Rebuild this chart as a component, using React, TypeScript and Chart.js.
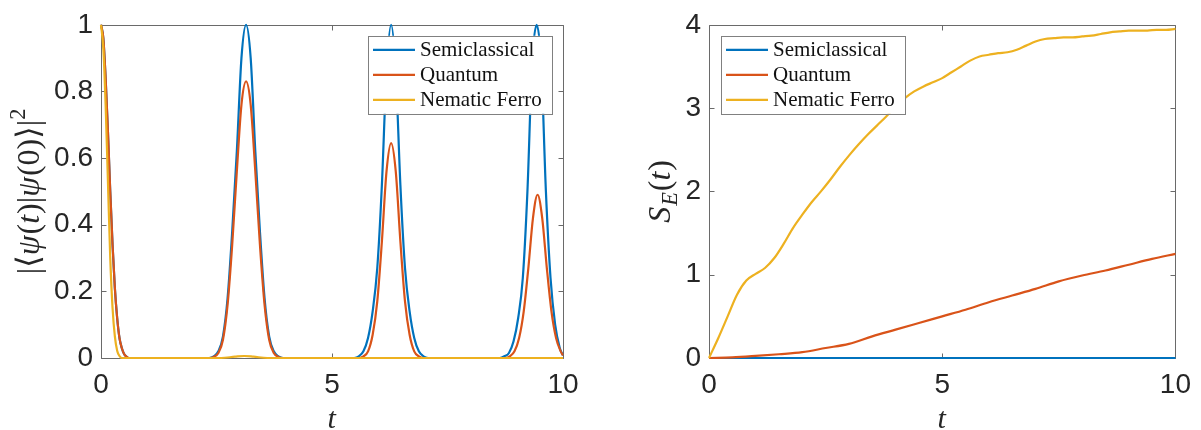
import React, { useEffect, useRef } from "react";
import { Chart, registerables } from "chart.js";

Chart.register(...registerables);

// ---------- shared ----------
const seriesNames = ["Semiclassical", "Quantum", "Nematic Ferro"];
const seriesColors = ["#0072BD", "#D95319", "#EDB120"];
const timeTicks = [0, 5, 10];
const overlapTicks = [0, 0.2, 0.4, 0.6, 0.8, 1];
const entropyTicks = [0, 1, 2, 3, 4];

// ---------- left panel: |<psi(t)|psi(0)>|^2 ----------
const semiOverlapT = [
  0, 0.05, 0.1, 0.15, 0.2, 0.25, 0.3, 0.35, 0.4, 0.45, 0.5, 0.55, 0.6,
  2.34, 2.44, 2.54, 2.64, 2.74, 2.84, 2.94, 3.04, 3.14, 3.24, 3.34, 3.44, 3.54, 3.64, 3.74, 3.84, 3.94,
  5.48, 5.58, 5.68, 5.78, 5.88, 5.98, 6.08, 6.18, 6.28, 6.38, 6.48, 6.58, 6.68, 6.78, 6.88, 6.98, 7.08,
  8.63, 8.73, 8.83, 8.93, 9.03, 9.13, 9.23, 9.33, 9.43, 9.53, 9.63, 9.73, 9.83, 9.93, 10,
];
const semiOverlap = [
  1, 0.96, 0.84, 0.68, 0.5, 0.34, 0.21, 0.12, 0.06, 0.03, 0.012, 0.004, 0,
  0, 0.005, 0.02, 0.065, 0.18, 0.38, 0.62, 0.9, 1.0, 0.9, 0.62, 0.38, 0.18, 0.065, 0.02, 0.005, 0,
  0, 0.005, 0.02, 0.06, 0.14, 0.27, 0.52, 0.86, 1.0, 0.86, 0.52, 0.27, 0.14, 0.06, 0.02, 0.005, 0,
  0, 0.005, 0.015, 0.05, 0.12, 0.24, 0.5, 0.88, 1.0, 0.88, 0.5, 0.24, 0.1, 0.03, 0.008,
];

const quantumOverlapT = [
  0, 0.05, 0.1, 0.15, 0.2, 0.25, 0.3, 0.35, 0.4, 0.45, 0.5, 0.55, 0.6,
  2.34, 2.44, 2.54, 2.64, 2.74, 2.84, 2.94, 3.04, 3.14, 3.24, 3.34, 3.44, 3.54, 3.64, 3.74, 3.84, 3.94,
  5.58, 5.68, 5.78, 5.88, 5.98, 6.08, 6.18, 6.28, 6.38, 6.48, 6.58, 6.68, 6.78, 6.88, 6.98,
  8.75, 8.85, 8.95, 9.05, 9.15, 9.25, 9.35, 9.45, 9.55, 9.65, 9.75, 9.85, 9.95, 10,
];
const quantumOverlap = [
  1, 0.96, 0.84, 0.68, 0.5, 0.34, 0.21, 0.12, 0.06, 0.03, 0.012, 0.004, 0,
  0, 0.003, 0.015, 0.055, 0.16, 0.34, 0.56, 0.76, 0.83, 0.76, 0.56, 0.34, 0.16, 0.055, 0.015, 0.003, 0,
  0, 0.005, 0.02, 0.07, 0.17, 0.35, 0.56, 0.645, 0.56, 0.35, 0.17, 0.07, 0.02, 0.005, 0,
  0, 0.005, 0.02, 0.06, 0.14, 0.27, 0.42, 0.49, 0.42, 0.27, 0.14, 0.06, 0.02, 0.008,
];

const nematicOverlapT = [
  0, 0.05, 0.1, 0.15, 0.2, 0.25, 0.3, 0.35, 0.4, 0.45, 2.6, 2.9, 3.1, 3.3, 3.6, 10,
];
const nematicOverlap = [
  1, 0.93, 0.76, 0.53, 0.3, 0.15, 0.065, 0.022, 0.006, 0, 0, 0.004, 0.006, 0.004, 0, 0,
];

// ---------- right panel: S_E(t) ----------
const semiEntropyT = [0, 10];
const semiEntropy = [0, 0];

const quantumEntropyT = [
  0, 0.5, 1, 1.5, 2, 2.5, 3, 3.5, 4, 4.5, 5, 5.5, 6, 6.5, 7, 7.5, 8, 8.5, 9, 9.5, 10,
];
const quantumEntropy = [
  0, 0.008, 0.025, 0.045, 0.07, 0.12, 0.17, 0.26, 0.34, 0.42, 0.5, 0.58, 0.67, 0.75, 0.83,
  0.92, 0.99, 1.05, 1.12, 1.19, 1.25,
];

const nematicEntropyT = [
  0, 0.2, 0.4, 0.6, 0.8, 1.0, 1.2, 1.4, 1.6, 1.8, 2.0, 2.2, 2.4, 2.6, 2.8, 3.0, 3.2, 3.4,
  3.6, 3.8, 4.0, 4.2, 4.4, 4.6, 4.8, 5.0, 5.2, 5.4, 5.6, 5.8, 6.0, 6.2, 6.4, 6.6, 6.8, 7.0,
  7.2, 7.4, 7.6, 7.8, 8.0, 8.2, 8.4, 8.6, 8.8, 9.0, 9.2, 9.4, 9.6, 9.8, 10,
];
const nematicEntropy = [
  0, 0.24, 0.5, 0.76, 0.93, 1.01, 1.08, 1.2, 1.37, 1.56, 1.72, 1.87, 2.0, 2.14, 2.29, 2.43,
  2.56, 2.68, 2.79, 2.9, 3.02, 3.12, 3.2, 3.26, 3.31, 3.36, 3.43, 3.5, 3.57, 3.62, 3.64,
  3.66, 3.67, 3.7, 3.75, 3.8, 3.83, 3.84, 3.85, 3.85, 3.86, 3.87, 3.89, 3.91, 3.92, 3.93,
  3.93, 3.93, 3.94, 3.94, 3.95,
];

// ---------- drawing helpers ----------
const SANS = '"Liberation Sans", Arial, Helvetica, sans-serif';
const SERIF = '"Liberation Serif", "Times New Roman", "DejaVu Serif", serif';
const TEXT_COLOR = "#262626";
const AXIS_COLOR = "#6a6a6a";

type Seg = { t: string; it?: boolean; sc?: number; dy?: number };

function segFont(s: Seg, size: number) {
  const sz = size * (s.sc ?? 1);
  return `${s.it ? "italic " : ""}${sz}px ${SERIF}`;
}

function drawMath(ctx: CanvasRenderingContext2D, segs: Seg[], size: number, cx: number, cy: number, rotate: boolean) {
  ctx.save();
  ctx.translate(cx, cy);
  if (rotate) ctx.rotate(-Math.PI / 2);
  ctx.fillStyle = TEXT_COLOR;
  ctx.textBaseline = "alphabetic";
  ctx.textAlign = "left";
  const widths = segs.map((s) => {
    ctx.font = segFont(s, size);
    return ctx.measureText(s.t).width + (s.it ? size * 0.03 : 0);
  });
  const total = widths.reduce((a, b) => a + b, 0);
  let x = -total / 2;
  const base = size * 0.27;
  segs.forEach((s, i) => {
    ctx.font = segFont(s, size);
    ctx.fillText(s.t, x, base + (s.dy ?? 0) * size);
    x += widths[i];
  });
  ctx.restore();
}

const matlabAxes = {
  id: "matlabAxes",
  beforeDatasetsDraw(chart: any, _a: any, opts: any) {
    const { ctx, chartArea: a, scales } = chart;
    ctx.save();
    ctx.strokeStyle = AXIS_COLOR;
    ctx.lineWidth = 1;
    const L = Math.round(a.left) + 0.5;
    const R = Math.round(a.right) + 0.5;
    const T = Math.round(a.top) + 0.5;
    const B = Math.round(a.bottom) + 0.5;
    ctx.beginPath();
    ctx.rect(L, T, R - L, B - T);
    const tl = 5;
    for (const v of opts.xTicks) {
      const px = Math.round(scales.x.getPixelForValue(v)) + 0.5;
      ctx.moveTo(px, B);
      ctx.lineTo(px, B - tl);
      ctx.moveTo(px, T);
      ctx.lineTo(px, T + tl);
    }
    for (const v of opts.yTicks) {
      const py = Math.round(scales.y.getPixelForValue(v)) + 0.5;
      ctx.moveTo(L, py);
      ctx.lineTo(L + tl, py);
      ctx.moveTo(R, py);
      ctx.lineTo(R - tl, py);
    }
    ctx.stroke();
    ctx.restore();
  },
  afterDatasetsDraw(chart: any, _a: any, opts: any) {
    const { ctx, chartArea: a } = chart;
    const lg = opts.legend;
    const bx = lg.anchor === "right" ? a.right - lg.dx - lg.w : a.left + lg.dx;
    const by = a.top + lg.dy;
    ctx.save();
    ctx.fillStyle = "#ffffff";
    ctx.fillRect(bx, by, lg.w, lg.h);
    ctx.strokeStyle = "#808080";
    ctx.lineWidth = 1;
    ctx.strokeRect(Math.round(bx) + 0.5, Math.round(by) + 0.5, lg.w, lg.h);
    ctx.font = `21px ${SERIF}`;
    ctx.textBaseline = "middle";
    ctx.textAlign = "left";
    seriesNames.forEach((name, i) => {
      const y = by + 14 + i * 25;
      ctx.strokeStyle = seriesColors[i];
      ctx.lineWidth = 2.2;
      ctx.beginPath();
      ctx.moveTo(bx + 5, y);
      ctx.lineTo(bx + 47, y);
      ctx.stroke();
      ctx.fillStyle = "#111111";
      ctx.fillText(name, bx + 52, y + 1);
    });
    ctx.restore();
  },
  afterDraw(chart: any, _a: any, opts: any) {
    const { ctx, chartArea: a } = chart;
    const midX = (a.left + a.right) / 2;
    const midY = (a.top + a.bottom) / 2;
    drawMath(ctx, [{ t: "t", it: true }], 30, midX, 420, false);
    drawMath(ctx, opts.yTitle, opts.yTitleSize, opts.yTitleX, midY, true);
  },
};

function makeSeries(ts: number[], ys: number[]) {
  return ts.map((x, i) => ({ x, y: ys[i] }));
}

function buildConfig(
  series: { t: number[]; y: number[] }[],
  yMax: number,
  yTicks: number[],
  padRight: number,
  yAxisWidth: number,
  pluginOpts: any
): any {
  const tickFont = { family: SANS, size: 28 };
  const fmt = (v: any) => String(v);
  return {
    type: "line",
    data: {
      datasets: series.map((s, i) => ({
        label: seriesNames[i],
        data: makeSeries(s.t, s.y),
        borderColor: seriesColors[i],
        backgroundColor: seriesColors[i],
        borderWidth: 2.2,
        pointRadius: 0,
        fill: false,
        cubicInterpolationMode: "monotone",
        clip: false,
        order: 3 - i,
      })),
    },
    options: {
      animation: false,
      responsive: false,
      maintainAspectRatio: false,
      events: [],
      layout: { padding: { left: 0, right: padRight, top: 17, bottom: 0 } },
      plugins: {
        legend: { display: false },
        tooltip: { enabled: false },
        title: { display: false },
        matlabAxes: pluginOpts,
      },
      scales: {
        x: {
          type: "linear",
          min: 0,
          max: 10,
          afterBuildTicks: (sc: any) => {
            sc.ticks = timeTicks.map((v) => ({ value: v }));
          },
          afterFit: (sc: any) => {
            sc.height = 72;
          },
          grid: { display: false, drawTicks: false },
          border: { display: false },
          ticks: { font: tickFont, color: TEXT_COLOR, padding: 10, maxRotation: 0, autoSkip: false, callback: fmt },
        },
        y: {
          type: "linear",
          min: 0,
          max: yMax,
          afterBuildTicks: (sc: any) => {
            sc.ticks = yTicks.map((v) => ({ value: v }));
          },
          afterFit: (sc: any) => {
            sc.width = yAxisWidth;
          },
          grid: { display: false, drawTicks: false },
          border: { display: false },
          ticks: { font: tickFont, color: TEXT_COLOR, padding: 8, autoSkip: false, callback: fmt },
        },
      },
    },
    plugins: [matlabAxes],
  };
}

function Panel(props: { config: any; width: number; height: number; left: number }) {
  const ref = useRef<HTMLCanvasElement | null>(null);
  useEffect(() => {
    if (!ref.current) return;
    const chart = new Chart(ref.current, props.config);
    return () => chart.destroy();
  }, []);
  return (
    <div style={{ position: "absolute", left: props.left, top: 0, width: props.width, height: props.height }}>
      <canvas ref={ref} width={props.width} height={props.height} style={{ display: "block" }} />
    </div>
  );
}

const overlapTitle: Seg[] = [
  { t: "|" },
  { t: "⟨" },
  { t: "ψ", it: true },
  { t: "(" },
  { t: "t", it: true },
  { t: ")" },
  { t: "|" },
  { t: "ψ", it: true },
  { t: "(0)" },
  { t: "⟩" },
  { t: "|" },
  { t: "2", sc: 0.7, dy: -0.42 },
];

const entropyTitle: Seg[] = [
  { t: "S", it: true },
  { t: "E", it: true, sc: 0.7, dy: 0.22 },
  { t: "(" },
  { t: "t", it: true },
  { t: ")" },
];

export default function App() {
  const leftConfig = buildConfig(
    [
      { t: semiOverlapT, y: semiOverlap },
      { t: quantumOverlapT, y: quantumOverlap },
      { t: nematicOverlapT, y: nematicOverlap },
    ],
    1,
    overlapTicks,
    37,
    101,
    {
      xTicks: timeTicks,
      yTicks: overlapTicks,
      legend: { anchor: "right", dx: 11, dy: 11, w: 184, h: 78 },
      yTitle: overlapTitle,
      yTitleSize: 32,
      yTitleX: 30,
    }
  );
  const rightConfig = buildConfig(
    [
      { t: semiEntropyT, y: semiEntropy },
      { t: quantumEntropyT, y: quantumEntropy },
      { t: nematicEntropyT, y: nematicEntropy },
    ],
    4,
    entropyTicks,
    20,
    109,
    {
      xTicks: timeTicks,
      yTicks: entropyTicks,
      legend: { anchor: "left", dx: 12, dy: 11, w: 184, h: 78 },
      yTitle: entropyTitle,
      yTitleSize: 32,
      yTitleX: 61,
    }
  );
  return (
    <div style={{ position: "absolute", left: 0, top: 0, width: 1201, height: 430, background: "#ffffff" }}>
      <Panel config={leftConfig} width={600} height={430} left={0} />
      <Panel config={rightConfig} width={601} height={430} left={600} />
    </div>
  );
}
